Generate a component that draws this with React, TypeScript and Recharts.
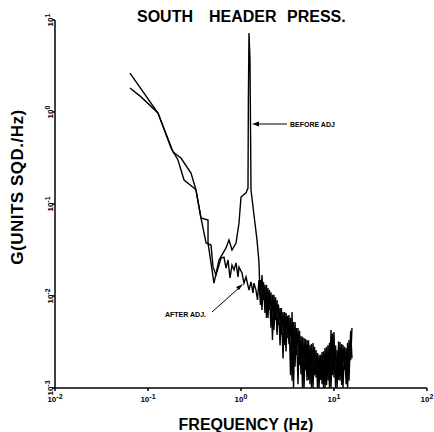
import React from 'react';
import { LineChart, Line, XAxis, YAxis } from 'recharts';

const xTicks = [0.01, 0.1, 1, 10, 100];
const xTickExp = ['-2', '-1', '0', '1', '2'];
const yTicks = [0.001, 0.01, 0.1, 1, 10];
const yTickExp = ['-3', '-2', '-1', '0', '1'];

const beforeFreq = [
  0.064, 0.128, 0.186, 0.226, 0.29, 0.328, 0.371, 0.442, 0.442, 0.512, 0.58, 0.69, 0.743, 0.8, 0.884, 0.952, 1.0, 1.132, 1.189, 1.2, 1.219, 1.249, 1.281, 1.379, 1.486, 1.56, 1.6,
  1.62, 1.68, 1.745, 1.81, 1.88, 1.95, 2.02, 2.1, 2.18, 2.26, 2.35, 2.44, 2.53, 2.63, 2.72, 2.83, 2.94, 3.05, 3.16, 3.28, 3.41, 3.54, 3.67, 3.81, 3.95, 4.1, 4.26, 4.42, 4.59, 4.76, 4.94, 5.13, 5.32, 5.52, 5.73, 5.95, 6.17, 6.41, 6.65, 6.9, 7.16, 7.44, 7.72, 8.01, 8.31, 8.63, 8.95, 9.29, 9.65, 10.0, 10.4, 10.8, 11.2, 11.6, 12.1, 12.5, 13.0, 13.5, 14.0, 14.5, 15.1, 15.6,
];
const beforeG = [
  2.65, 0.975, 0.367, 0.316, 0.217, 0.142, 0.0705, 0.067, 0.0377, 0.0138, 0.0246, 0.0333, 0.0407, 0.0316, 0.0377, 0.0621, 0.119, 0.132, 0.149, 1.35, 7.22, 3.67, 0.142, 0.0759, 0.0407, 0.0234, 0.0103,
  0.0149, 0.00705, 0.0142, 0.00653, 0.0132, 0.00577, 0.0116, 0.00453, 0.0103, 0.00426, 0.0097, 0.00377, 0.0081, 0.0029, 0.0074, 0.0021, 0.0067, 0.0025, 0.0061, 0.003, 0.0058, 0.0012, 0.0052, 0.0017, 0.0045, 0.0011, 0.0042, 0.0014, 0.0036, 0.001, 0.0034, 0.0012, 0.0033, 0.0011, 0.003, 0.001, 0.0028, 0.0013, 0.0024, 0.001, 0.0023, 0.0011, 0.0025, 0.001, 0.0028, 0.0012, 0.0031, 0.001, 0.0039, 0.0013, 0.0029, 0.001, 0.0032, 0.0012, 0.003, 0.001, 0.0028, 0.0011, 0.0031, 0.0012, 0.0042, 0.0021,
];

const afterFreq = [
  0.064, 0.0841, 0.128, 0.177, 0.21, 0.244, 0.312, 0.328, 0.371, 0.421, 0.476, 0.5, 0.538, 0.58, 0.61, 0.656, 0.69, 0.725, 0.762, 0.8, 0.841, 0.884, 0.929, 0.952, 1.025, 1.077, 1.132, 1.219, 1.281, 1.346, 1.379,
  1.449, 1.505, 1.56, 1.62, 1.68, 1.745, 1.81, 1.88, 1.95, 2.02, 2.1, 2.18, 2.26, 2.35, 2.44, 2.53, 2.63, 2.72, 2.83, 2.94, 3.05, 3.16, 3.28, 3.41, 3.54, 3.67, 3.81, 3.95, 4.1, 4.26, 4.42, 4.59, 4.76, 4.94, 5.13, 5.32, 5.52, 5.73, 5.95, 6.17, 6.41, 6.65, 6.9, 7.16, 7.44, 7.72, 8.01, 8.31, 8.63, 8.95, 9.29, 9.65, 10.0, 10.4, 10.8, 11.2, 11.6, 12.1, 12.5, 13.0, 13.5, 14.0, 14.5, 15.1, 15.6,
];
const afterG = [
  1.82, 1.46, 0.975, 0.406, 0.301, 0.182, 0.149, 0.142, 0.0705, 0.0377, 0.0358, 0.0207, 0.0169, 0.0217, 0.0259, 0.0265, 0.0201, 0.0246, 0.0157, 0.0217, 0.0192, 0.0229, 0.0161, 0.0207, 0.0178, 0.0138, 0.0161, 0.0116, 0.0142, 0.0108, 0.0138,
  0.0116, 0.00906, 0.0149, 0.00798, 0.0169, 0.00906, 0.0132, 0.00577, 0.0122, 0.00705, 0.011, 0.00333, 0.0103, 0.00548, 0.00906, 0.00484, 0.00741, 0.00377, 0.0067, 0.00293, 0.00653, 0.00349, 0.00621, 0.00138, 0.0067, 0.001, 0.00521, 0.00229, 0.00449, 0.00178, 0.00367, 0.001, 0.00349, 0.00157, 0.00333, 0.00122, 0.00293, 0.001, 0.00308, 0.00138, 0.00259, 0.001, 0.00229, 0.00122, 0.00246, 0.001, 0.00272, 0.00108, 0.00293, 0.001, 0.00426, 0.00138, 0.00406, 0.001, 0.00259, 0.00122, 0.00316, 0.00108, 0.00293, 0.00157, 0.00272, 0.001, 0.00333, 0.00201, 0.00449,
];

const beforeData = beforeFreq.map((f, i) => ({ f, g: beforeG[i] }));
const afterData = afterFreq.map((f, i) => ({ f, g: afterG[i] }));

const FONT = '"Liberation Sans", Arial, sans-serif';

const XTick = (props: any) => {
  const { x, y, index } = props;
  return (
    <text x={x} y={y + 9} textAnchor="middle" fontFamily={FONT} fontWeight="bold" fontSize={8} fill="#000">
      10<tspan dy={-3} fontSize={7}>{xTickExp[index]}</tspan>
    </text>
  );
};

const YTick = (props: any) => {
  const { x, y, index } = props;
  return (
    <g transform={`translate(${x + 3},${y}) rotate(-90)`}>
      <text x={0} y={0} textAnchor="middle" fontFamily={FONT} fontWeight="bold" fontSize={8} fill="#000">
        10<tspan dy={-3} fontSize={7}>{yTickExp[index]}</tspan>
      </text>
    </g>
  );
};

export default function App() {
  return (
    <div style={{ position: 'absolute', left: 0, top: 0, width: 434, height: 432, background: '#fff' }}>
      <LineChart width={434} height={432} margin={{ top: 20, right: 7, bottom: 0, left: 0 }}>
        <XAxis
          dataKey="f"
          type="number"
          scale="log"
          domain={[0.01, 100]}
          ticks={xTicks}
          allowDataOverflow
          height={44}
          stroke="#000"
          strokeWidth={1.5}
          tickSize={3}
          tick={<XTick />}
          interval={0}
        />
        <YAxis
          dataKey="g"
          type="number"
          scale="log"
          domain={[0.001, 10]}
          ticks={yTicks}
          allowDataOverflow
          width={55}
          stroke="#000"
          strokeWidth={1.5}
          tickSize={3}
          tick={<YTick />}
          interval={0}
        />
        <Line data={beforeData} dataKey="g" stroke="#000" strokeWidth={1.4} dot={false} isAnimationActive={false} />
        <Line data={afterData} dataKey="g" stroke="#000" strokeWidth={1.4} dot={false} isAnimationActive={false} />
      </LineChart>
      <svg width={434} height={432} style={{ position: 'absolute', left: 0, top: 0, pointerEvents: 'none' }}>
        <text y={22} fontFamily={FONT} fontWeight="bold" fontSize={16} fill="#000">
          <tspan x={137}>SOUTH</tspan>
          <tspan x={209}>HEADER</tspan>
          <tspan x={287}>PRESS.</tspan>
        </text>
        <text transform="translate(23,187) rotate(-90)" textAnchor="middle" fontFamily={FONT} fontWeight="bold" fontSize={17} letterSpacing={0.5} fill="#000">
          G(UNITS SQD./Hz)
        </text>
        <text x={246} y={430} textAnchor="middle" fontFamily={FONT} fontWeight="bold" fontSize={16} fill="#000">
          FREQUENCY (Hz)
        </text>
        <line x1={256} y1={124} x2={287} y2={124} stroke="#000" strokeWidth={1} />
        <polygon points="252,124 259,121.5 259,126.5" fill="#000" />
        <text x={290} y={127} fontFamily={FONT} fontWeight="bold" fontSize={7} fill="#000">BEFORE ADJ</text>
        <line x1={212} y1={312} x2={240} y2={287} stroke="#000" strokeWidth={1} />
        <polygon points="243,284 236,287 239,290" fill="#000" />
        <text x={165} y={317} fontFamily={FONT} fontWeight="bold" fontSize={7} fill="#000">AFTER ADJ.</text>
      </svg>
    </div>
  );
}
